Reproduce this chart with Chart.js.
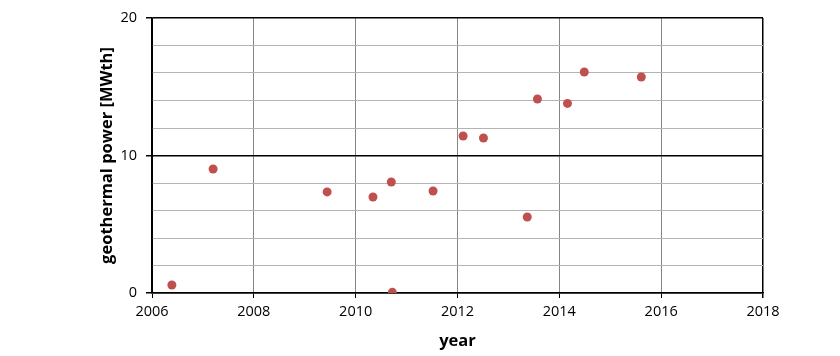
<!DOCTYPE html>
<html>
<head>
<meta charset="utf-8">
<script src="https://cdn.jsdelivr.net/npm/chart.js@4"></script>
<style>
  html, body { margin: 0; padding: 0; background: #fff; }
  #wrap { width: 840px; height: 356px; }
</style>
</head>
<body>
<div id="wrap"><canvas id="scatterChart" width="840" height="356"></canvas></div>
<script>
const years = [2006.39, 2007.2, 2009.44, 2010.34, 2010.7, 2010.72, 2011.52, 2012.11, 2012.51, 2013.37, 2013.57, 2014.16, 2014.49, 2015.61];
const power = [0.58, 9.02, 7.35, 6.98, 8.07, 0.05, 7.42, 11.42, 11.27, 5.53, 14.11, 13.79, 16.07, 15.71];
const xMin = 2006, xMax = 2018, xStep = 2;
const yMin = 0, yMax = 20, yStep = 2, yLabelStep = 10;

const points = years.map((x, i) => ({ x: x, y: power[i] }));
const font = "'Open Sans', 'DejaVu Sans', sans-serif";

const ctx = document.getElementById("scatterChart").getContext("2d");
const myChart = new Chart(ctx, {
  type: "scatter",
  data: {
    datasets: [
      {
        label: "geothermal power",
        data: points,
        backgroundColor: "#c0504d",
        borderColor: "#c0504d",
        pointRadius: 4.5,
        pointHoverRadius: 4.5,
        borderWidth: 0,
      },
    ],
  },
  options: {
    responsive: false,
    animation: false,
    layout: { padding: { left: 0, top: 18, right: 77, bottom: 0 } },
    plugins: {
      legend: { display: false },
      tooltip: { enabled: false },
    },
    scales: {
      x: {
        type: "linear",
        min: xMin,
        max: xMax,
        afterFit: (scale) => { scale.height = 63; },
        ticks: {
          stepSize: xStep,
          color: "#000",
          font: { family: font, size: 14.5 },
          padding: 5,
          maxRotation: 0,
          callback: (v) => String(v),
        },
        grid: {
          color: (c) => (c.tick && (c.tick.value === xMin || c.tick.value === xMax) ? "#000" : "#868686"),
          tickColor: "#000",
          tickLength: 5,
          lineWidth: (c) => (c.tick && c.tick.value === xMax ? 1.5 : 1),
        },
        border: { color: "#000", width: 1.5 },
        title: {
          display: true,
          text: "year",
          color: "#000",
          font: { family: font, size: 16.5, weight: "bold" },
          padding: { top: 0, bottom: 5 },
        },
      },
      y: {
        min: yMin,
        max: yMax,
        afterFit: (scale) => { scale.width = 152; },
        ticks: {
          stepSize: yStep,
          color: "#000",
          font: { family: font, size: 14.5 },
          padding: 9,
          callback: (v) => (v % yLabelStep === 0 ? String(v) : ""),
        },
        grid: {
          color: (c) => (c.tick && c.tick.value % yLabelStep === 0 ? "#000" : "#b4b4b4"),
          tickColor: (c) => (c.tick && c.tick.value % yLabelStep === 0 ? "#000" : "rgba(0,0,0,0)"),
          tickLength: 6,
          lineWidth: (c) => (c.tick && c.tick.value % yLabelStep === 0 ? 1.5 : 1),
        },
        border: { color: "#000", width: 1.5 },
        title: {
          display: true,
          text: "geothermal power [MWth]",
          color: "#000",
          font: { family: font, size: 16.5, weight: "bold" },
          padding: { top: 97, bottom: 0 },
        },
      },
    },
  },
});
</script>
</body>
</html>
